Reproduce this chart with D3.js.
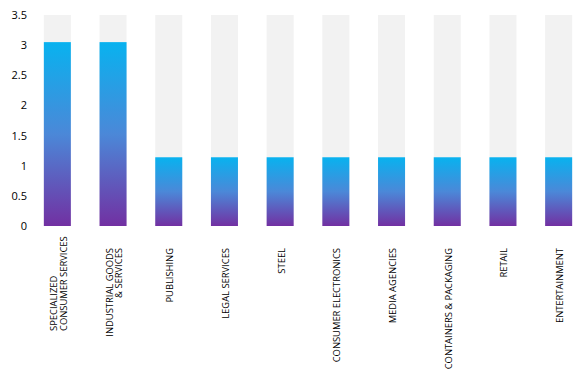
<!DOCTYPE html>
<meta charset="utf-8">
<head>
  <style>
    body { margin: 0; background: #fff; }
    text { font-family: "Open Sans", sans-serif; fill: #000; }
  </style>
</head>
<body>
<script src="https://cdn.jsdelivr.net/npm/d3@7"></script>
<div id="chart"></div>
<script>
  var categories = [
    ['SPECIALIZED', 'CONSUMER SERVICES'],
    ['INDUSTRIAL GOODS', '& SERVICES'],
    ['PUBLISHING'],
    ['LEGAL SERVICES'],
    ['STEEL'],
    ['CONSUMER ELECTRONICS'],
    ['MEDIA AGENCIES'],
    ['CONTAINERS & PACKAGING'],
    ['RETAIL'],
    ['ENTERTAINMENT']
  ];
  var values = [3.05, 3.05, 1.14, 1.14, 1.14, 1.14, 1.14, 1.14, 1.14, 1.14];
  var yTicks = [0, 0.5, 1, 1.5, 2, 2.5, 3, 3.5];
  var yMax = 3.5;

  var width = 587, height = 385;

  var svg = d3.select('#chart').append('svg')
    .attr('width', width)
    .attr('height', height);

  var grad = svg.append('defs').append('linearGradient')
    .attr('id', 'barGrad')
    .attr('x1', 0).attr('y1', 1).attr('x2', 0).attr('y2', 0);
  grad.append('stop').attr('offset', '0%').attr('stop-color', '#7230a2');
  grad.append('stop').attr('offset', '50%').attr('stop-color', '#4b88d8');
  grad.append('stop').attr('offset', '100%').attr('stop-color', '#08b2ef');

  var x = d3.scaleBand()
    .domain(d3.range(categories.length))
    .range([29.5, 586.5])
    .paddingInner(0.515)
    .paddingOuter(0.2575);

  var y = d3.scaleLinear().domain([0, yMax]).range([226, 15]);

  // y axis labels
  svg.append('g')
    .attr('transform', 'translate(27,0)')
    .call(d3.axisLeft(y).tickValues(yTicks).tickSize(0).tickPadding(0)
      .tickFormat(function(d) { return d; }))
    .call(function(g) {
      g.select('.domain').remove();
      g.selectAll('text').attr('font-size', '11px')
        .attr('font-family', '"Open Sans", sans-serif').attr('fill', '#000');
    });

  // background bars
  svg.selectAll('rect.bg')
    .data(values)
    .enter().append('rect')
    .attr('class', 'bg')
    .attr('x', function(d, i) { return x(i); })
    .attr('width', x.bandwidth())
    .attr('y', y(yMax))
    .attr('height', y(0) - y(yMax))
    .attr('fill', '#f2f2f2');

  // value bars
  svg.selectAll('rect.bar')
    .data(values)
    .enter().append('rect')
    .attr('class', 'bar')
    .attr('x', function(d, i) { return x(i); })
    .attr('width', x.bandwidth())
    .attr('y', function(d) { return y(d); })
    .attr('height', function(d) { return y(0) - y(d); })
    .attr('fill', 'url(#barGrad)');

  // category labels, rotated
  var labelTop = 248, labelBottom = 331, lineGap = 9.5;
  var labels = svg.selectAll('g.lab')
    .data(categories)
    .enter().append('g')
    .attr('class', 'lab');

  labels.each(function(lines, i) {
    var g = d3.select(this);
    var cx = x(i) + x.bandwidth() / 2 + 1;
    var n = lines.length;
    var texts = lines.map(function(line, k) {
      var off = (k - (n - 1) / 2) * lineGap;
      return g.append('text')
        .attr('font-size', '9.4px')
        .attr('dominant-baseline', 'central')
        .attr('transform', 'translate(' + (cx + off) + ',0) rotate(-90)')
        .text(line);
    });
    var maxLen = d3.max(texts, function(t) { return t.node().getComputedTextLength(); });
    // long two-line labels sit against the bottom of the label box
    var bottomAligned = n > 1 && maxLen > 90;
    texts.forEach(function(t) {
      if (bottomAligned) {
        t.attr('x', -labelBottom).attr('text-anchor', 'start');
      } else {
        t.attr('x', -labelTop).attr('text-anchor', 'end');
      }
    });
  });
</script>
</body>
